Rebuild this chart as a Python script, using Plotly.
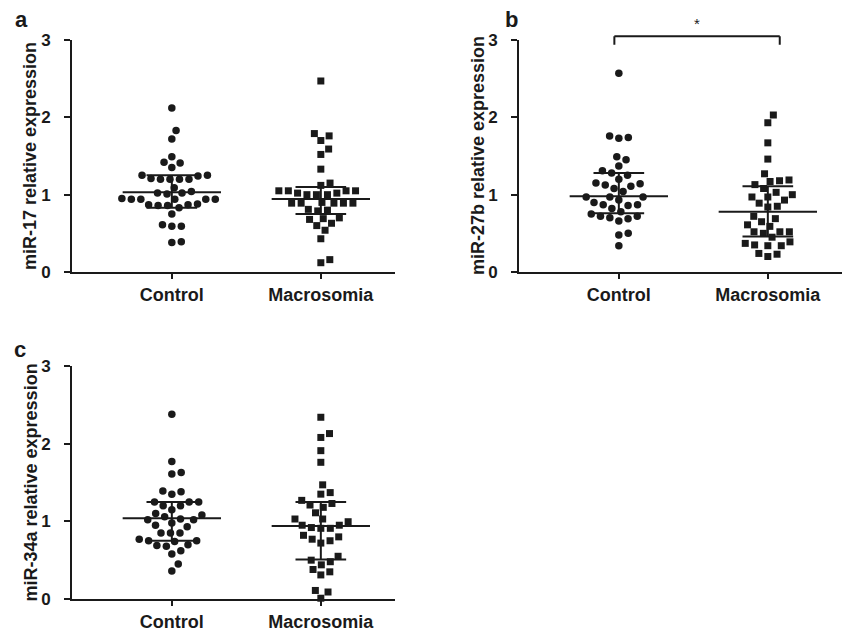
import math
import plotly.graph_objects as go

# ---------------- data ----------------
categories = ["Control", "Macrosomia"]
y_ticks = [0, 1, 2, 3]

mir17_control = [2.12, 1.83, 1.72, 1.49, 1.42, 1.41, 1.35, 1.25, 1.25, 1.24, 1.21, 1.20, 1.20,
                 1.20, 1.20, 1.09, 1.04, 1.02, 1.02, 1.01, 0.95, 0.94, 0.94, 0.94, 0.94, 0.94,
                 0.88, 0.87, 0.87, 0.86, 0.86, 0.83, 0.75, 0.61, 0.59, 0.59, 0.39, 0.38]
mir17_macro = [2.47, 1.79, 1.76, 1.70, 1.59, 1.52, 1.33, 1.15, 1.12, 1.05, 1.05, 1.05, 1.05,
               1.02, 1.02, 1.00, 1.00, 1.00, 0.89, 0.89, 0.89, 0.89, 0.89, 0.90, 0.81, 0.80,
               0.79, 0.70, 0.69, 0.68, 0.63, 0.60, 0.54, 0.43, 0.16, 0.12]

mir27b_control = [2.57, 1.76, 1.74, 1.73, 1.49, 1.45, 1.37, 1.31, 1.28, 1.25, 1.20, 1.15, 1.14,
                  1.125, 1.11, 1.08, 1.04, 0.97, 0.97, 0.97, 0.93, 0.90, 0.87, 0.87, 0.86, 0.82,
                  0.78, 0.75, 0.72, 0.72, 0.70, 0.69, 0.66, 0.50, 0.48, 0.34]
mir27b_macro = [2.03, 1.93, 1.67, 1.46, 1.27, 1.19, 1.18, 1.17, 1.13, 1.08, 1.03, 1.00, 0.97,
                0.97, 0.93, 0.89, 0.85, 0.84, 0.72, 0.69, 0.65, 0.61, 0.59, 0.52, 0.52, 0.52,
                0.50, 0.45, 0.39, 0.37, 0.35, 0.34, 0.34, 0.24, 0.23, 0.20]

mir34a_control = [2.38, 1.77, 1.63, 1.61, 1.39, 1.38, 1.35, 1.25, 1.25, 1.25, 1.20, 1.20, 1.15,
                  1.10, 1.08, 1.06, 1.03, 1.02, 1.02, 0.98, 0.95, 0.93, 0.85, 0.85, 0.85, 0.77,
                  0.75, 0.75, 0.74, 0.70, 0.69, 0.68, 0.62, 0.58, 0.45, 0.36]
mir34a_macro = [2.34, 2.13, 2.08, 1.91, 1.76, 1.47, 1.37, 1.35, 1.27, 1.23, 1.21, 1.18, 1.11,
                1.03, 1.03, 0.995, 0.95, 0.95, 0.92, 0.91, 0.91, 0.82, 0.80, 0.77, 0.75, 0.72,
                0.55, 0.50, 0.48, 0.44, 0.38, 0.35, 0.31, 0.11, 0.09, 0.01]

# summary lines (centre, lower, upper) per group
mir17_center = [1.03, 0.944]
mir17_lower = [0.83, 0.75]
mir17_upper = [1.25, 1.10]
mir27b_center = [0.98, 0.78]
mir27b_lower = [0.76, 0.46]
mir27b_upper = [1.28, 1.11]
mir34a_center = [1.04, 0.94]
mir34a_lower = [0.75, 0.51]
mir34a_upper = [1.25, 1.25]

# significance bracket panel b
sig_x = [-0.03, 1.08]
sig_y = [2.94, 3.05]
sig_label = "*"

panel_titles = ["miR-17 relative expression", "miR-27b relative expression",
                "miR-34a relative expression"]
panel_letters = ["a", "b", "c"]

# ---------------- layout geometry ----------------
W, H = 856, 638
OFF = 8  # the page body margin shifts the figure by this many pixels
FONT = "Liberation Sans, Arial, Helvetica, sans-serif"
INK = "#1a1a1a"
XR = [-0.67, 1.5]
PX_PER_X = 149.0


def fx(px):
    return (px - OFF) / W


def fy(py):
    return 1 - (py - OFF) / H


panels = [
    dict(ax_left=72, top=40, bottom=272, title_x=30, letter=(21, 28),
         data=(mir17_control, mir17_macro),
         c=mir17_center, lo=mir17_lower, hi=mir17_upper),
    dict(ax_left=519, top=40, bottom=272, title_x=478, letter=(512, 28),
         data=(mir27b_control, mir27b_macro),
         c=mir27b_center, lo=mir27b_lower, hi=mir27b_upper),
    dict(ax_left=72, top=366, bottom=599, title_x=30, letter=(20, 358),
         data=(mir34a_control, mir34a_macro),
         c=mir34a_center, lo=mir34a_lower, hi=mir34a_upper),
]


def swarm(values, px_per_y, px_per_x, d=9.5):
    n = len(values)
    order = sorted(range(n), key=lambda i: values[i])
    placed = []
    xs = [0.0] * n
    for i in order:
        y = values[i] * px_per_y
        cands = [0.0]
        for (px, py) in placed:
            dy = abs(py - y)
            if dy < d:
                dx = math.sqrt(d * d - dy * dy)
                cands += [px + dx, px - dx]
        cands.sort(key=lambda c: (round(abs(c), 3)))
        x = 0.0
        for c in cands:
            if all((c - px) ** 2 + (y - py) ** 2 >= d * d - 1e-6 for px, py in placed):
                x = c
                break
        placed.append((x, y))
        xs[i] = x / px_per_x
    return xs


fig = go.Figure()
layout = dict(width=W, height=H, margin=dict(l=0, r=0, t=0, b=0, autoexpand=False),
              paper_bgcolor="white", plot_bgcolor="white", showlegend=False,
              font=dict(family=FONT, color=INK))
annotations = []
shapes = []

for k, p in enumerate(panels):
    sfx = "" if k == 0 else str(k + 1)
    xa, ya = "x" + sfx, "y" + sfx
    right_px = p["ax_left"] + (XR[1] - XR[0]) * PX_PER_X
    px_per_y = (p["bottom"] - p["top"]) / 3.0
    layout["xaxis" + sfx] = dict(
        domain=[fx(p["ax_left"]), min(1.0, fx(right_px))], range=XR, anchor=ya,
        tickvals=[0, 1], ticktext=categories, showgrid=False, zeroline=False,
        showline=True, linecolor=INK, linewidth=2, ticks="outside", ticklen=5,
        tickwidth=2, tickcolor=INK,
        tickfont=dict(family=FONT, size=18, color=INK, weight="bold"))
    layout["yaxis" + sfx] = dict(
        domain=[fy(p["bottom"]), fy(p["top"])], range=[0, 3], anchor=xa,
        tickvals=y_ticks, showgrid=False, zeroline=False, showline=True,
        linecolor=INK, linewidth=2, ticks="outside", ticklen=6, tickwidth=2,
        tickcolor=INK, ticklabelstandoff=10,
        tickfont=dict(family=FONT, size=17, color=INK, weight="bold"))

    for g, vals in enumerate(p["data"]):
        offs = swarm(vals, px_per_y, PX_PER_X)
        fig.add_trace(go.Scatter(
            x=[g + o for o in offs], y=vals, xaxis=xa, yaxis=ya, mode="markers",
            cliponaxis=False,
            marker=dict(symbol="circle" if g == 0 else "square",
                        size=7.5 if g == 0 else 7, color=INK, line=dict(width=0))))
        c, lo, hi = p["c"][g], p["lo"][g], p["hi"][g]
        lx = [g - 0.33, g + 0.33, None, g, g, None, g - 0.17, g + 0.17, None,
              g - 0.17, g + 0.17]
        ly = [c, c, None, lo, hi, None, hi, hi, None, lo, lo]
        fig.add_trace(go.Scatter(x=lx, y=ly, xaxis=xa, yaxis=ya, mode="lines",
                                 line=dict(color=INK, width=2), hoverinfo="skip"))

    # y title
    annotations.append(dict(
        text=panel_titles[k], xref="paper", yref="paper",
        x=fx(p["title_x"]), y=fy((p["top"] + p["bottom"]) / 2),
        textangle=-90, showarrow=False, xanchor="center", yanchor="middle",
        font=dict(family=FONT, size=18, color=INK, weight="bold")))
    # letter (anchored at its baseline area)
    annotations.append(dict(
        text=panel_letters[k], xref="paper", yref="paper",
        x=fx(p["letter"][0]), y=fy(p["letter"][1]),
        showarrow=False, xanchor="center", yanchor="bottom", borderpad=0,
        yshift=-5,
        font=dict(family=FONT, size=22, color=INK, weight="bold")))

# significance bracket on panel b
for xv in sig_x:
    shapes.append(dict(type="line", xref="x2", yref="y2 domain",
                       x0=xv, x1=xv, y0=sig_y[0] / 3, y1=sig_y[1] / 3,
                       line=dict(color=INK, width=2)))
shapes.append(dict(type="line", xref="x2", yref="y2 domain",
                   x0=sig_x[0], x1=sig_x[1], y0=sig_y[1] / 3, y1=sig_y[1] / 3,
                   line=dict(color=INK, width=2)))
annotations.append(dict(text=sig_label, xref="x2", yref="y2 domain",
                        x=sum(sig_x) / 2, y=sig_y[1] / 3, showarrow=False,
                        yanchor="bottom", yshift=2,
                        font=dict(family=FONT, size=15, color=INK)))

layout["annotations"] = annotations
layout["shapes"] = shapes
fig.update_layout(**layout)
fig.write_html("out.html")
